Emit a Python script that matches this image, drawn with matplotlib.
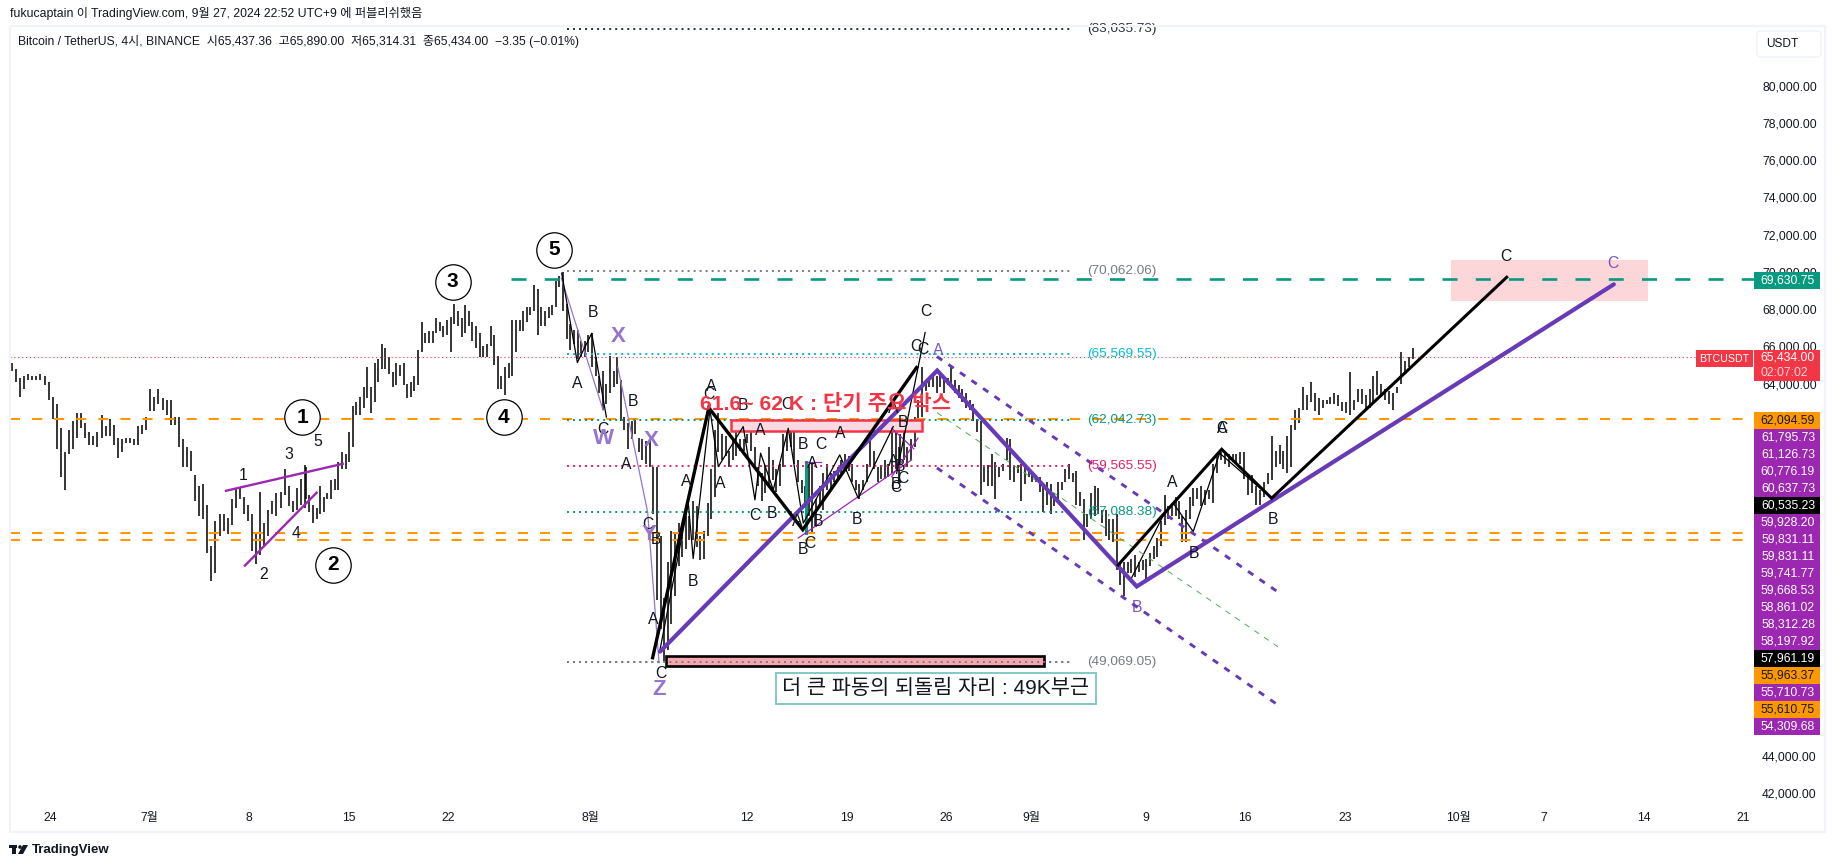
import numpy as np
import matplotlib
matplotlib.use('Agg')
import matplotlib.pyplot as plt
from matplotlib.patches import Rectangle, FancyBboxPatch, Circle, Polygon

plt.rcParams['font.family'] = ['Liberation Sans', 'Noto Sans CJK KR', 'DejaVu Sans']

# price bars, (high, low) in thousand USDT, days counted from 24 June
seg1 = [(65.1,64.7),(64.8,64.1),(64.3,63.3),(64.4,63.7),(64.5,64.2),(64.4,64.2),(64.4,64.2),(64.5,64.2),(64.4,63.9),
        (64.1,63.1),(63.3,62.1),(62.9,60.5),(61.6,59.0),(60.3,58.3),(61.5,60.2),(62.0,60.5),(62.4,61.1),(62.4,61.6),
        (61.9,61.1),(61.4,60.7),(61.2,60.7),(61.4,60.6),(62.3,61.1),(61.7,61.2),(62.1,61.2),(61.8,60.7),(61.1,60.0),
        (61.0,60.3),(61.1,60.8),(61.1,60.8),(61.0,60.7),(61.7,60.7),(61.8,61.3),(62.2,61.5),(63.7,62.5),(63.3,62.5),
        (63.7,62.9),(63.2,62.6),(63.1,62.3),(63.1,61.8),(62.2,61.8),(62.2,60.6),(61.0,59.5),(60.6,59.5),(60.4,59.3),
        (59.1,57.7),(58.5,56.9),(58.6,56.7),(57.5,54.9),(55.3,53.4),(56.6,53.8),(57.0,55.8),(57.0,56.1),(56.8,55.9),
        (57.8,56.4),(58.4,57.3),(58.4,57.8),(57.9,57.0),(57.5,56.6),(57.0,55.0),(55.9,54.3),(58.2,54.8),(56.5,55.2),
        (57.2,55.8),(57.7,57.0),(58.1,56.9),(58.2,57.3),(59.4,58.0),(58.5,57.4),(57.7,57.1),(58.4,57.2),(58.9,57.5),
        (59.6,57.3)]
seg2 = [(59.5,57.8),(58.0,57.1),(57.5,56.5),(57.3,56.7),(58.5,57.0),(57.9,57.1),(58.1,57.8),(58.8,57.8),(58.9,58.3),
        (59.8,58.3),(60.3,59.4),(60.2,59.4),(61.4,59.8),(62.8,60.6),(63.0,62.3),(63.3,62.3),(63.8,62.7),(64.9,63.2),
        (63.8,62.4),(65.1,63.0),(65.3,64.1),(66.1,64.8),(65.9,64.8),(65.4,64.5),(64.6,63.8),(65.1,63.9),(65.0,64.4),
        (65.1,63.9),(64.0,63.2),(64.1,63.3),(64.4,63.6),(65.8,63.9),(67.3,65.7),(66.7,66.2),(66.8,66.2),(66.8,66.2),
        (67.5,66.7),(67.3,66.8),(67.1,66.5),(67.4,66.6),(67.6,65.7),(68.3,67.2),(67.9,67.1),(67.5,66.5),(68.2,66.7),
        (67.9,67.1),(67.3,66.3),(67.1,65.9),(66.7,65.4),(66.0,65.4),(66.1,65.4),(67.1,66.0),(66.6,65.0),(65.5,63.7),
        (64.4,63.7),(64.9,63.4),(65.1,64.3),(67.4,64.4),(67.4,65.7),(67.4,66.8),(67.9,66.8),(68.1,67.3),(68.1,67.7),
        (69.3,67.9),(69.1,66.6),(68.1,67.1),(67.9,67.1),(68.1,67.5),(68.2,67.7),(69.5,68.1),(69.8,69.2),(70.0,67.9),
        (68.3,66.4),(67.2,65.8),(66.9,66.1),(66.9,65.3),(66.3,65.4),(66.3,65.4),(66.6,65.7),(66.7,64.9),(65.4,64.4),
        (64.4,63.5)]
seg3 = [(64.7,62.6),(64.0,62.9),(65.5,63.5),(64.7,63.8),(65.4,64.0),(64.2,62.0),(62.2,61.5),(61.9,60.5),(62.0,61.0),
        (62.1,61.3),(61.1,60.3),(61.0,59.9),(60.9,59.7),(61.0,59.5),(59.5,57.0),(59.5,52.4),(55.8,50.8),(52.5,49.1),
        (54.4,49.7),(56.1,51.1),(55.9,52.6),(56.5,54.2),(56.1,54.7),(56.9,55.1),(56.9,55.6),(57.7,55.6),(57.4,55.2),
        (55.8,54.5),(56.1,54.6),(57.6,55.8),(59.4,56.7),(61.5,57.9),(62.4,60.3),(61.3,59.9),(61.2,60.1),(60.4,59.5),
        (61.0,59.9),(61.4,60.1),(61.0,60.4),(61.0,60.4),(61.3,60.8),(61.8,60.4),(60.6,59.4),(59.5,58.5),(59.2,57.7),
        (59.6,58.1),(60.6,58.5),(59.9,58.8),(59.4,58.2),(59.7,58.5),(61.3,59.5),(61.5,60.4),(61.6,60.6),(61.7,59.7),
        (59.9,58.7),(58.8,58.1),(58.5,57.4),(59.7,56.9),(59.7,56.0),(57.8,56.3),(58.5,57.4),(59.2,57.2),(59.7,58.3),
        (59.2,58.3),(59.3,58.7),(59.5,58.8),(59.9,59.2),(60.2,59.5),(60.1,59.3),(59.7,58.7),(58.8,58.3),(58.6,57.8),
        (58.8,58.3),(59.7,58.7),(61.2,59.5),(60.4,59.4),(59.5,58.7),(59.6,58.9),(59.9,58.9),(59.7,59.0),(61.7,59.2),
        (61.5,59.4),(60.6,58.6)]
seg4 = [(61.3,59.7),(61.5,59.9),(60.6,59.5),(61.0,59.9),(62.2,60.6),(63.1,61.4),(64.9,62.2),(64.2,63.6),(64.3,63.8),
        (64.4,63.8),(64.4,63.5),(64.5,63.8),(64.2,63.5),(64.3,63.9),(65.0,63.8),(64.2,63.5),(63.9,63.2),(63.7,63.0),
        (63.5,62.7),(63.1,62.6),(62.9,62.0),(62.1,61.4),(62.0,58.0),(59.5,58.7),(59.6,58.5),(60.2,58.5),(59.8,57.8),
        (59.5,59.0),(59.7,59.3),(61.1,59.9),(61.0,58.8),(59.5,58.7),(59.6,59.2),(59.7,57.7),(59.5,58.6),(59.3,59.0),
        (59.2,58.7),(59.1,58.7),(59.0,58.2),(58.5,57.1),(58.7,57.5),(58.6,57.0),(58.1,57.4),(58.7,57.8),(58.7,58.3),
        (59.4,58.7),(59.7,58.9),(59.2,58.7),(59.3,57.5),(58.2,57.4),(57.8,55.6),(57.0,56.3),(58.1,56.7),(58.5,56.9),
        (58.4,57.0),(57.2,56.5),(57.2,55.8),(56.7,55.6),(56.7,55.5),(57.0,54.0),(54.4,53.2),(54.4,52.6),(54.4,53.8),
        (54.6,53.8),(54.8,53.6),(54.4,53.9),(54.5,54.0),(54.6,53.5),(54.9,54.2),(55.3,54.6),(55.7,54.7),(56.6,55.3),
        (58.0,56.4),(57.4,56.7),(57.5,56.9),(57.9,56.9),(57.7,56.7)]
seg5 = [(56.9,55.5),(57.2,55.5),(57.9,56.7),(58.4,57.4),(58.4,57.8),(58.5,57.4),(58.3,57.5),(58.3,57.8),(59.7,57.6),
        (60.2,59.2),(60.3,59.9),(60.3,59.7),(60.2,59.5),(60.2,59.8),(60.2,59.8),(60.3,59.7),(60.3,58.9),(59.0,58.0),
        (59.1,58.1),(58.5,57.5),(58.3,57.5),(58.7,57.9),(59.2,58.6),(61.2,58.8),(60.4,59.5),(60.7,59.7),(60.4,59.4),
        (61.2,59.2),(61.8,59.5),(62.6,61.5),(62.7,61.9),(63.8,62.6),(63.4,62.6),(64.1,63.0),(63.5,62.5),(63.2,62.3),
        (63.1,62.7),(63.1,62.9),(63.3,62.9),(63.5,62.9),(63.4,62.8),(63.0,62.5),(63.0,62.4),(64.6,62.3),(63.1,62.6),
        (63.7,63.0),(63.7,62.9),(63.4,62.6),(63.7,62.7),(64.4,63.0),(64.7,63.4),(64.0,63.3),(63.7,63.1),(63.6,62.9),
        (63.5,62.6),(63.8,63.5),(65.7,64.0),(65.2,64.6),(65.4,64.9),(65.9,65.3)]
seg_days = [(-2.67, 17.92), (17.97, 38.6), (38.84, 59.68), (59.73, 79.36), (79.53, 95.76)]

# axes
price_ticks = [80000, 78000, 76000, 74000, 72000, 70000, 68000, 66000, 64000, 44000, 42000]
time_ticks = [0, 7, 14, 21, 28, 38, 49, 56, 63, 69, 77, 84, 91, 99, 105, 112, 119]
time_labels = ['24', '7월', '8', '15', '22', '8월', '12', '19', '26', '9월', '9', '16', '23', '10월', '7', '14', '21']

# horizontal levels
orange_levels = [62094.59, 55963.37, 55610.75]
green_level = 69630.75
last_price = 65434.00
fib_levels = [83035.73, 70062.06, 65569.55, 62042.73, 59565.55, 57088.38, 49069.05]
fib_colors = ['#2A2E39', '#787B86', '#00BCD4', '#089981', '#E91E63', '#089981', '#787B86']

# wave drawings, (day, thousand USDT)
black_main = [(42.35,49.27),(46.3,62.7),(52.9,56.15),(60.9,64.86)]
black_next = [(75.07,54.26),(82.34,60.47),(85.85,57.84),(102.37,69.71)]
violet_main = [(42.87,49.6),(62.35,64.7),(76.37,53.1),(109.9,69.33)]
channel_top = [(62.33,65.45),(86.36,52.77)]
channel_low = [(62.33,59.47),(86.36,46.7)]
channel_mid = [(62.33,62.44),(86.3,49.86)]
wedge_top = [(12.37,58.24),(20.57,59.69)]
wedge_low = [(13.7,54.22),(18.74,58.14)]
thin_violet = [[(35.93,69.67),(38.87,62.58)], [(39.9,64.9),(42.0,57.1),(42.8,49.0)]]
thin_purple = [[(52.58,55.7),(60.55,59.9)], [(59.15,59.0),(61.0,61.07)], [(59.15,61.6),(60.7,60.5)],
               [(53.06,59.76),(54.2,59.76)]]
thin_black = [[(35.96,69.93),(37.06,65.13),(38.07,66.7),(39.1,62.2)],
              [(42.87,49.7),(44.86,57.57),(45.2,54.6),(46.38,62.6),(46.97,59.54),(48.72,61.69),(49.54,57.75),
               (49.94,60.26),(50.83,58.29),(51.88,61.6),(52.94,56.5),(55.5,60.17),(56.8,57.84),(59.26,61.69)],
              [(59.5,59.18),(61.5,66.74)],
              [(76.0,53.55),(78.2,56.86),(78.94,57.57),(80.34,56.05),(82.2,60.26),(85.85,57.84)]]
teal_stick = [(53.1,59.76),(53.1,55.99)]

# boxes, (day from, day to, price top, price bottom)
target_box = (98.45, 112.3, 70.64, 68.44)
short_box = (47.83, 61.25, 62.05, 61.46)
low_box = (43.3, 69.87, 49.34, 48.84)

circled = [(17.74,62.2,'1'), (19.89,54.26,'2'), (28.3,69.47,'3'), (31.9,62.2,'4'), (35.42,71.18,'5')]
small_numbers = [(13.56,59.06,'1'), (15.04,53.73,'2'), (16.76,60.2,'3'), (17.27,55.93,'4'), (18.8,60.9,'5')]
black_letters = [(38.14,67.81,'B'),(37.08,63.98,'A'),(38.84,61.55,'C'),(40.95,63.03,'B'),(40.46,59.63,'A'),
                 (42.05,56.45,'C'),(42.59,55.6,'B'),(42.4,51.3,'A'),(42.9,48.4,'C'),(45.2,53.37,'B'),(44.7,58.73,'A'),
                 (46.45,63.84,'A'),(46.33,63.39,'C'),(47.13,58.65,'A'),(48.72,62.8,'B'),(49.94,61.46,'A'),
                 (51.77,62.85,'C'),(49.54,56.91,'C'),(50.76,57.04,'B'),(52.9,60.71,'B'),(54.18,60.71,'C'),
                 (53.6,59.72,'A'),(55.56,61.33,'A'),(52.52,56.59,'A'),(54.0,56.59,'B'),(52.9,55.07,'B'),(53.4,55.43,'C'),
                 (56.73,56.68,'B'),(59.26,59.81,'A'),(59.97,58.92,'C'),(59.43,58.56,'B'),(59.43,58.4,'C'),(59.73,59.54,'B'),
                 (59.92,61.9,'B'),(59.26,62.68,'A'),(61.56,67.86,'C'),(60.86,65.98,'C'),(61.37,65.84,'C'),
                 (78.9,58.68,'A'),(82.38,61.56,'A'),(82.38,61.56,'C'),(85.92,56.68,'B'),(80.42,54.85,'B'),(102.3,70.82,'C')]
violet_letters = [(62.42,65.77,'A'),(76.4,51.97,'B'),(109.8,70.46,'C')]
big_letters = [(39.94,66.52,'X'),(38.88,61.07,'W'),(42.28,60.92,'X'),(42.1,55.87,'Y'),(42.8,47.55,'Z')]

# stacked labels of the price scale
scale_values = ['62,094.59', '61,795.73', '61,126.73', '60,776.19', '60,637.73', '60,535.23', '59,928.20', '59,831.11',
                '59,831.11', '59,741.77', '59,668.53', '58,861.02', '58,312.28', '58,197.92', '57,961.19', '55,963.37',
                '55,710.73', '55,610.75', '54,309.68']
scale_kinds = ['o', 'p', 'p', 'p', 'p', 'k', 'p', 'p', 'p', 'p', 'p', 'p', 'p', 'p', 'k', 'o', 'p', 'o', 'p']

ORANGE = '#FF9800'
PURPLE = '#9C27B0'
VIOLET = '#673AB7'
SOFT_VIOLET = '#9575CD'
GREEN = '#089981'
RED = '#F23645'
FRAME = '#F0F3FA'
TEXT = '#131722'


def draw(points, **kw):
    xs, ys = zip(*points)
    ax.plot(xs, np.array(ys) * 1000, **kw)


def box(spec, **kw):
    d0, d1, top, low = spec
    ax.add_patch(Rectangle((d0, low * 1000), d1 - d0, (top - low) * 1000, **kw))


fig = plt.figure(figsize=(18.35, 8.67), dpi=100)
W, H = 1835.0, 867.0
ax = fig.add_axes([10 / W, 1 - 832 / H, (1754 - 10) / W, (832 - 26) / H])
ax.set_xlim(-2.81, 119.75)
ax.set_ylim(39911, 83207)
for s in ax.spines.values():
    s.set_visible(False)
ax.yaxis.tick_right()
ax.set_yticks(price_ticks)
ax.set_yticklabels([f'{v:,.2f}' for v in price_ticks])
ax.set_xticks(time_ticks)
ax.set_xticklabels(time_labels)
ax.tick_params(axis='y', length=0, pad=5.8, labelsize=8.7, labelcolor=TEXT)
ax.tick_params(axis='x', length=0, pad=-14.4, labelsize=8.7, labelcolor=TEXT)

box(target_box, facecolor=RED, alpha=0.2, edgecolor='none', zorder=1)

for seg, (d0, d1) in zip([seg1, seg2, seg3, seg4, seg5], seg_days):
    bars = np.array(seg) * 1000
    days = np.linspace(d0, d1, len(bars))
    ax.vlines(days, bars[:, 1], bars[:, 0], color='black', lw=1.1, zorder=2)

ax.plot([-2.81, 116], [last_price] * 2, color=RED, lw=0.8, ls=(0, (1, 2.5)), zorder=3)
for v in orange_levels:
    ax.axhline(v, color=ORANGE, lw=1.5, ls=(0, (4.8, 5.8)), zorder=3)
ax.plot([32.4, 119.75], [green_level] * 2, color=GREEN, lw=1.9, ls=(0, (5.7, 6.9)), zorder=3)

for v, c in zip(fib_levels, fib_colors):
    ax.plot([36.3, 71.9], [v, v], color=c, lw=1.4, ls=(0, (1, 2.1)), zorder=3)
    ax.text(72.9, v, f'({v:,.2f})', color=c, fontsize=9.7, va='center', ha='left', zorder=6)

box(short_box, facecolor='#FBD9E2', edgecolor=RED, lw=1.8, zorder=3)
draw(teal_stick, color=GREEN, lw=2.2, zorder=4)
for line in thin_violet:
    draw(line, color=SOFT_VIOLET, lw=0.9, zorder=4)
for line in thin_purple:
    draw(line, color=PURPLE, lw=0.9, zorder=4)
for line in thin_black:
    draw(line, color='black', lw=0.9, zorder=4)
draw(channel_mid, color='#4CAF50', lw=0.7, ls=(0, (6, 6)), zorder=4)
for line in (channel_top, channel_low):
    draw(line, color=VIOLET, lw=2.1, ls=(0, (2.2, 2.6)), zorder=4)
draw(wedge_top, color=PURPLE, lw=1.7, zorder=4)
draw(wedge_low, color=PURPLE, lw=1.7, zorder=4)
draw(violet_main, color=VIOLET, lw=3.0, solid_capstyle='round', solid_joinstyle='miter', zorder=5)
draw(black_main, color='black', lw=2.4, solid_joinstyle='miter', zorder=5)
draw(black_next, color='black', lw=2.2, solid_joinstyle='miter', zorder=5)
box(low_box, facecolor='#F6A6AE', edgecolor='black', lw=1.9, zorder=5)
ax.plot([36.3, 71.9], [fib_levels[-1]] * 2, color='#787B86', lw=1.4, ls=(0, (1, 2.1)), zorder=5.5)

for d, p, t in small_numbers + black_letters:
    ax.text(d, p * 1000, t, color=TEXT, fontsize=11.3, ha='center', va='center', zorder=7)
for d, p, t in violet_letters:
    ax.text(d, p * 1000, t, color=VIOLET, fontsize=11.3, ha='center', va='center', alpha=0.85, zorder=7)
for d, p, t in big_letters:
    ax.text(d, p * 1000, t, color=SOFT_VIOLET, fontsize=16, fontweight='bold', ha='center', va='center', zorder=7)
for d, p, t in circled:
    ax.plot(d, p * 1000, 'o', ms=25.5, mfc='white', mec='black', mew=0.9, zorder=6)
    ax.text(d, p * 1000, t, color='black', fontsize=15, fontweight='bold', ha='center', va='center', zorder=7)

ax.text(54.53, 62910, '61.6~ 62 K : 단기 주요 박스', color=RED, fontsize=15.2, fontweight='bold',
        ha='center', va='center', zorder=7)
ax.text(62.26, 47620, '더 큰 파동의 되돌림 자리 : 49K부근', color=TEXT, fontsize=15, ha='center', va='center', zorder=7,
        bbox=dict(boxstyle='square,pad=0.3', facecolor='white', edgecolor='#80CBC4', lw=1.4))

# page furniture, drawn in figure pixels on an overlay
ov = fig.add_axes([0, 0, 1, 1], zorder=5)
ov.set_xlim(0, W)
ov.set_ylim(H, 0)
ov.axis('off')
ov.add_patch(Rectangle((9.5, 26), 1815.5, 806, facecolor='none', edgecolor=FRAME, lw=1.6))
ov.text(10, 14, 'fukucaptain 이 TradingView.com, 9월 27, 2024 22:52 UTC+9 에 퍼블리쉬했음',
        fontsize=8.8, color=TEXT, va='center')
ov.text(18, 41, 'Bitcoin / TetherUS, 4시, BINANCE  시65,437.36  고65,890.00  저65,314.31  종65,434.00  −3.35 (−0.01%)',
        fontsize=8.7, color=TEXT, va='center')
ov.add_patch(FancyBboxPatch((1759, 33), 60, 22, boxstyle='round,pad=2,rounding_size=4', facecolor='white',
                            edgecolor=FRAME, lw=1.2))
ov.text(1766, 44, 'USDT', fontsize=8.6, color=TEXT, va='center')


def tag(y0, y1, text, bg, fg, x0=1754, x1=1820):
    ov.add_patch(Rectangle((x0, y0), x1 - x0, y1 - y0, facecolor=bg, edgecolor='none'))
    ov.text(x1 - 5, (y0 + y1) / 2, text, color=fg, fontsize=8.7, ha='right', va='center')


tag(272, 289, f'{green_level:,.2f}', GREEN, 'white')
ov.add_patch(Rectangle((1696, 350), 57, 17, facecolor=RED, edgecolor='none'))
ov.text(1724.5, 358.5, 'BTCUSDT', color='white', fontsize=7.7, ha='center', va='center')
ov.add_patch(Rectangle((1754, 350), 66, 31, facecolor=RED, edgecolor='none'))
ov.text(1815, 358, f'{last_price:,.2f}', color='white', fontsize=8.7, ha='right', va='center')
ov.text(1808, 373, '02:07:02', color='#FFD5DA', fontsize=8.7, ha='right', va='center')
kind_style = {'o': (ORANGE, '#131722'), 'p': (PURPLE, 'white'), 'k': ('black', 'white')}
for i, (v, k) in enumerate(zip(scale_values, scale_kinds)):
    bg, fg = kind_style[k]
    tag(412 + 17 * i, 429 + 17 * i, v, bg, fg)

# TradingView mark
ov.add_patch(Rectangle((9, 845), 8, 3, facecolor='#131722', edgecolor='none'))
ov.add_patch(Rectangle((12, 845), 4, 9, facecolor='#131722', edgecolor='none'))
ov.add_patch(Circle((20, 847), 1.8, facecolor='#131722', edgecolor='none'))
ov.add_patch(Polygon([(23, 845), (28, 845), (23, 854), (18, 854)], facecolor='#131722', edgecolor='none'))
ov.text(32, 850, 'TradingView', fontsize=9.5, color='#131722', va='center', fontweight='bold')

fig.savefig('out.png', dpi=100)
